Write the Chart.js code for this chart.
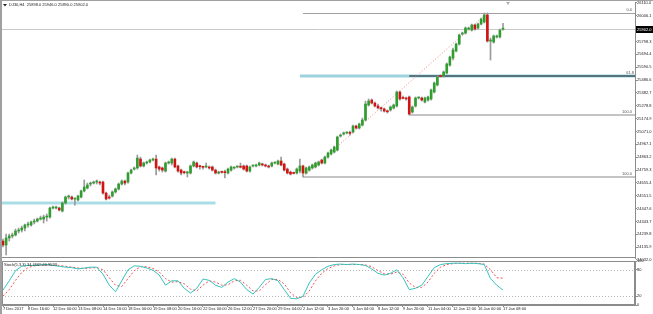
<!DOCTYPE html>
<html>
<head>
<meta charset="utf-8">
<script src="https://cdn.jsdelivr.net/npm/chart.js@4.4.1/dist/chart.umd.min.js"></script>
<style>
    html, body { margin: 0; padding: 0; background: #fff; }
    #wrap { position: relative; width: 653px; height: 314px; overflow: hidden; background: #fff; }
    #wrap canvas { position: absolute; left: 0; }
    #main { top: 0; }
    #stoch { top: 259px; }
    .edge { position: absolute; background: #a0a0a0; }
</style>
</head>
<body>
<div id="wrap">
    <canvas id="main" width="653" height="263"></canvas>
    <canvas id="stoch" width="653" height="55"></canvas>
    <div class="edge" style="left:0;top:0;width:653px;height:1px;"></div>
    <div class="edge" style="left:0;top:0;width:2px;height:314px;"></div>
</div>
<script>
// DJ30 H4 candles, 7 Dec 2017 .. 17 Jan 2018
const opens = [24185,24153,24210,24226,24234,24266,24274,24290,24315,24315,24339,24347,24363,24363,24379,24379,24452,24452,24452,24428,
    24493,24541,24541,24525,24517,24541,24590,24614,24646,24654,24662,24662,24662,24573,24541,24549,24582,24606,24646,24670,
    24662,24735,24767,24776,24848,24792,24816,24824,24840,24848,24784,24776,24751,24816,24816,24848,24792,24759,24743,24735,
    24735,24792,24816,24792,24784,24784,24784,24784,24759,24735,24743,24743,24735,24759,24776,24784,24784,24792,24792,24751,
    24792,24792,24800,24808,24800,24792,24792,24816,24808,24832,24808,24767,24743,24735,24735,24751,24792,24735,24759,24776,
    24784,24800,24840,24816,24864,24889,24905,24921,25034,25051,25059,25059,25067,25115,25099,25123,25164,25285,25325,25301,
    25277,25261,25253,25236,25245,25261,25277,25390,25342,25342,25350,25228,25277,25342,25342,25309,25325,25334,25390,25447,
    25519,25519,25544,25608,25665,25722,25778,25859,25867,25899,25891,25932,25908,25940,25956,26013,25802,25794,25835,25835,
    25898];
const highs = [24201,24242,24242,24250,24282,24290,24306,24323,24339,24347,24363,24371,24387,24395,24404,24460,24468,24468,24460,24501,
    24549,24557,24549,24533,24557,24598,24679,24654,24662,24670,24679,24670,24670,24582,24557,24590,24614,24654,24679,24679,
    24743,24767,24784,24881,24864,24824,24832,24848,24856,24881,24792,24784,24824,24832,24856,24856,24800,24767,24751,24751,
    24800,24832,24824,24800,24792,24816,24792,24792,24767,24751,24751,24759,24776,24792,24784,24792,24816,24800,24800,24792,
    24800,24808,24824,24816,24808,24800,24824,24824,24840,24864,24816,24776,24751,24743,24776,24848,24800,24784,24792,24808,
    24824,24832,24848,24873,24905,24929,24953,25034,25051,25067,25067,25075,25123,25123,25139,25180,25317,25334,25334,25309,
    25293,25269,25261,25245,25277,25293,25398,25398,25358,25350,25358,25277,25350,25350,25350,25350,25358,25414,25471,25519,
    25528,25560,25625,25681,25746,25786,25859,25875,25916,25916,25940,25940,25948,25988,26029,26029,25827,25851,25851,25899,
    25946];
const lows = [24137,24072,24185,24210,24226,24250,24258,24266,24298,24306,24323,24339,24355,24331,24347,24371,24444,24444,24428,24420,
    24484,24525,24517,24476,24509,24533,24582,24606,24630,24646,24646,24638,24565,24517,24525,24541,24573,24598,24638,24638,
    24654,24727,24759,24767,24784,24784,24808,24816,24832,24719,24751,24743,24743,24808,24800,24776,24743,24719,24727,24703,
    24727,24784,24776,24767,24767,24776,24767,24751,24727,24727,24735,24695,24727,24751,24767,24776,24776,24759,24743,24743,
    24784,24784,24792,24792,24784,24776,24784,24808,24800,24792,24751,24727,24719,24727,24727,24735,24703,24727,24751,24767,
    24776,24792,24808,24808,24856,24881,24897,24913,25026,25042,25051,25042,25059,25091,25091,25115,25156,25277,25293,25269,
    25253,25236,25228,25220,25236,25253,25269,25325,25334,25325,25204,25220,25269,25334,25317,25301,25317,25325,25382,25439,
    25511,25511,25536,25600,25649,25714,25770,25851,25859,25891,25883,25891,25899,25932,25948,25794,25649,25786,25827,25827,
    25890];
const closes = [24153,24210,24226,24234,24266,24274,24290,24315,24323,24339,24347,24363,24371,24379,24382,24452,24460,24455,24436,24493,
    24541,24544,24525,24528,24549,24590,24622,24638,24649,24662,24665,24654,24573,24525,24533,24582,24606,24646,24670,24654,
    24735,24759,24776,24856,24792,24816,24824,24840,24843,24776,24767,24759,24816,24820,24848,24784,24751,24735,24738,24741,
    24792,24824,24784,24786,24781,24792,24776,24759,24735,24743,24740,24738,24767,24784,24779,24787,24782,24767,24751,24784,
    24795,24800,24816,24800,24792,24784,24816,24819,24832,24800,24759,24735,24727,24732,24767,24792,24735,24776,24784,24800,
    24816,24824,24816,24864,24897,24921,24945,25026,25042,25059,25062,25056,25115,25099,25131,25164,25293,25317,25301,25277,
    25261,25255,25236,25230,25269,25285,25390,25334,25338,25334,25212,25269,25342,25345,25325,25342,25350,25406,25463,25511,
    25515,25552,25617,25673,25730,25778,25851,25867,25908,25905,25932,25899,25940,25980,26013,25802,25811,25843,25840,25891,
    25902];

// time axis: one label every 8 bars
const timeLabels = ['7 Dec 2017','8 Dec 16:00','12 Dec 00:00','13 Dec 08:00','14 Dec 16:00','18 Dec 00:00','19 Dec 08:00',
    '20 Dec 16:00','22 Dec 00:00','26 Dec 12:00','27 Dec 20:00','29 Dec 04:00','2 Jan 12:00','3 Jan 20:00','5 Jan 04:00',
    '8 Jan 12:00','9 Jan 20:00','11 Jan 04:00','12 Jan 12:00','16 Jan 00:00','17 Jan 08:00'];
const labelEvery = 8;

// price scale labels
const priceTicks = [26110.0,26006.1,25902.2,25798.3,25694.4,25590.5,25486.6,25382.7,25278.8,25174.9,25071.0,
    24967.1,24863.2,24759.3,24655.4,24551.5,24447.6,24343.7,24239.8,24135.9,24032.0];

// Stoch(5,3,3), one reading every 2 bars
const stochStep = 2;
const stochMain = [34,55,78,88,90,90,91,92,90,88,86,85,82,84,86,86,70,45,30,55,
    80,89,88,84,79,68,45,55,55,38,27,38,59,56,45,40,52,60,52,35,
    25,40,58,60,55,35,15,14,20,50,70,80,88,92,93,92,93,92,90,82,
    72,68,72,80,62,35,38,45,65,85,92,94,95,95,94,95,94,92,60,45,
    34];
const stochSignal = [20,35,56,74,85,89,90,91,91,90,88,86,84,83,84,85,80,62,45,42,
    60,78,87,87,83,75,60,52,53,48,36,32,45,55,52,45,46,55,56,45,
    32,32,46,58,58,48,28,17,17,32,55,72,83,89,92,92,92,92,91,87,
    78,71,70,75,70,50,40,40,52,72,86,92,94,95,95,95,95,93,80,62,
    61];

// drawn objects
const supportLevel = { price: 24493, fromBar: -1, toBar: 68 };
const resistLevel = { price: 25519, fromBar: 95 };
const fibA = { lowBar: 96, low: 24703, highBar: 155, high: 26029 };
const fibB = { lowBar: 130, low: 25204, high: 26029 };
const title = 'DJ30,H4  25898.0 25946.0 25890.0 25902.0';
const stochTitle = 'Stoch(5,3,3) 34.4669 60.9523';

const FONT = '"Liberation Sans", Arial, sans-serif';
Chart.defaults.font.family = FONT;
Chart.defaults.font.lineHeight = 1;
Chart.defaults.animation = false;

const xMin = -0.32, xMax = 202.24;
const upColor = '#2f9e2f', downColor = '#d01414', wickColor = '#9a9a9a', frameColor = '#8c8c8c';
const bars = closes.map((_, i) => i);
const lastClose = closes[closes.length - 1];

function hLine(ctx, x1, x2, y, color, width, dash) {
    ctx.beginPath();
    ctx.setLineDash(dash || []);
    ctx.strokeStyle = color;
    ctx.lineWidth = width;
    ctx.moveTo(x1, y);
    ctx.lineTo(x2, y);
    ctx.stroke();
    ctx.setLineDash([]);
}

const mainOverlay = {
    id: 'mainOverlay',
    beforeDatasetsDraw(chart) {
        const { ctx, chartArea: a, scales: { x, y } } = chart;
        ctx.save();
        // bid line
        hLine(ctx, a.left, a.right, Math.round(y.getPixelForValue(lastClose)) + 0.5, '#c8c8c8', 1);
        // light blue horizontal levels
        hLine(ctx, Math.max(a.left, x.getPixelForValue(supportLevel.fromBar)), x.getPixelForValue(supportLevel.toBar),
            y.getPixelForValue(supportLevel.price), '#a9dde6', 3);
        hLine(ctx, x.getPixelForValue(resistLevel.fromBar), a.right, y.getPixelForValue(resistLevel.price), '#9ed3de', 3);
        // fibonacci A (0 / 100)
        const fa0 = y.getPixelForValue(fibA.high), fa100 = y.getPixelForValue(fibA.low);
        hLine(ctx, x.getPixelForValue(fibA.lowBar), a.right, Math.round(fa0) + 0.5, '#a0a0a0', 1);
        hLine(ctx, x.getPixelForValue(fibA.lowBar), a.right, Math.round(fa100), '#c4c4c4', 2);
        // fibonacci B (61.8 / 100)
        const fb618 = y.getPixelForValue(fibB.high - 0.618 * (fibB.high - fibB.low));
        const fb100 = y.getPixelForValue(fibB.low);
        hLine(ctx, x.getPixelForValue(fibB.lowBar), a.right, fb618, '#57737c', 2);
        hLine(ctx, x.getPixelForValue(fibB.lowBar), a.right, Math.round(fb100), '#c4c4c4', 2);
        // fib trend line
        ctx.beginPath();
        ctx.setLineDash([1, 2]);
        ctx.strokeStyle = '#f08080';
        ctx.lineWidth = 1;
        ctx.moveTo(x.getPixelForValue(fibA.lowBar), fa100);
        ctx.lineTo(x.getPixelForValue(fibA.highBar), fa0);
        ctx.stroke();
        ctx.setLineDash([]);
        // level texts
        ctx.font = '4px ' + FONT;
        ctx.fillStyle = '#555';
        ctx.textAlign = 'right';
        ctx.textBaseline = 'bottom';
        ctx.fillText('0.0', a.right - 3, fa0 - 1);
        ctx.fillText('61.8', a.right - 1, fb618 - 1);
        ctx.fillText('100.0', a.right - 3, fb100 - 1);
        ctx.fillText('100.0', a.right - 3, fa100 - 1);
        ctx.restore();
    },
    afterDraw(chart) {
        const { ctx, chartArea: a, scales: { y } } = chart;
        ctx.save();
        hLine(ctx, a.left, a.right, a.bottom - 0.5, frameColor, 1);
        // current price box
        const py = Math.round(y.getPixelForValue(lastClose));
        ctx.fillStyle = '#000';
        ctx.fillRect(a.right + 1, py - 3, 17, 7);
        ctx.fillStyle = '#fff';
        ctx.font = '4px ' + FONT;
        ctx.textAlign = 'left';
        ctx.textBaseline = 'middle';
        ctx.fillText(lastClose.toFixed(1), a.right + 2, py + 0.5);
        // title
        ctx.fillStyle = '#222';
        ctx.beginPath();
        ctx.moveTo(3, 4); ctx.lineTo(7, 4); ctx.lineTo(5, 6.5); ctx.closePath(); ctx.fill();
        ctx.fillText(title, 9, 5);
        // shift marker
        ctx.fillStyle = '#b0b0b0';
        ctx.beginPath();
        ctx.moveTo(506, 2); ctx.lineTo(510, 2); ctx.lineTo(508, 5); ctx.closePath(); ctx.fill();
        ctx.restore();
    }
};

new Chart(document.getElementById('main'), {
    type: 'bar',
    data: {
        datasets: [{
            data: bars.map(i => ({ x: i, y: [opens[i], closes[i]] })),
            backgroundColor: bars.map(i => closes[i] >= opens[i] ? upColor : downColor),
            barThickness: 2,
            minBarLength: 1,
            grouped: false,
            order: 1
        }, {
            data: bars.map(i => ({ x: i, y: [lows[i], highs[i]] })),
            backgroundColor: wickColor,
            barThickness: 1,
            grouped: false,
            order: 2
        }]
    },
    options: {
        responsive: false,
        devicePixelRatio: 1,
        layout: { padding: { left: 2, top: 2, right: 0, bottom: 5 } },
        plugins: { legend: { display: false }, tooltip: { enabled: false } },
        scales: {
            x: { type: 'linear', min: xMin, max: xMax, offset: false, display: false },
            y: {
                position: 'right',
                min: 24048, max: 26118,
                afterFit: s => { s.width = 18; },
                afterBuildTicks: s => { s.ticks = priceTicks.map(v => ({ value: v })); },
                ticks: { font: { size: 4 }, color: '#222', padding: 0, callback: v => Number(v).toFixed(1) },
                grid: { drawOnChartArea: false, tickLength: 2, color: frameColor },
                border: { color: frameColor }
            }
        }
    },
    plugins: [mainOverlay]
});

const stochOverlay = {
    id: 'stochOverlay',
    beforeDatasetsDraw(chart) {
        const { ctx, chartArea: a, scales: { y } } = chart;
        ctx.save();
        hLine(ctx, a.left, a.right, Math.round(y.getPixelForValue(80)) + 0.5, '#b4b4b4', 1, [1, 2]);
        hLine(ctx, a.left, a.right, Math.round(y.getPixelForValue(20)) + 0.5, '#b4b4b4', 1, [1, 2]);
        ctx.restore();
    },
    afterDraw(chart) {
        const { ctx, chartArea: a } = chart;
        ctx.save();
        ctx.strokeStyle = frameColor;
        ctx.lineWidth = 1;
        ctx.strokeRect(a.left + 0.5, a.top + 0.5, a.right - a.left - 1, a.bottom - a.top - 1);
        ctx.font = '4px ' + FONT;
        ctx.fillStyle = '#222';
        ctx.textBaseline = 'middle';
        ctx.fillText(stochTitle, 4, a.top + 4);
        ctx.restore();
    }
};

new Chart(document.getElementById('stoch'), {
    type: 'line',
    data: {
        datasets: [{
            data: stochMain.map((v, k) => ({ x: k * stochStep, y: v })),
            borderColor: '#35c3bd',
            borderWidth: 1,
            pointRadius: 0
        }, {
            data: stochSignal.map((v, k) => ({ x: k * stochStep, y: v })),
            borderColor: '#f05050',
            borderWidth: 1,
            borderDash: [2, 2],
            pointRadius: 0
        }]
    },
    options: {
        responsive: false,
        devicePixelRatio: 1,
        layout: { padding: { left: 2, top: 2, right: 0, bottom: 3 } },
        plugins: { legend: { display: false }, tooltip: { enabled: false } },
        scales: {
            x: {
                type: 'linear', min: xMin, max: xMax, offset: false,
                afterBuildTicks: s => { s.ticks = timeLabels.map((_, k) => ({ value: k * labelEvery })); },
                ticks: {
                    font: { size: 4 }, color: '#222', padding: 0, align: 'start', maxRotation: 0, autoSkip: false,
                    callback: v => timeLabels[Math.round(v / labelEvery)]
                },
                grid: { drawOnChartArea: false, tickLength: 2, color: frameColor },
                border: { color: frameColor }
            },
            y: {
                position: 'right', min: 0, max: 100,
                afterFit: s => { s.width = 18; },
                afterBuildTicks: s => { s.ticks = [100, 80, 20, 0].map(v => ({ value: v })); },
                ticks: { font: { size: 4 }, color: '#222', padding: 0 },
                grid: { drawOnChartArea: false, tickLength: 2, color: frameColor },
                border: { color: frameColor }
            }
        }
    },
    plugins: [stochOverlay]
});
</script>
</body>
</html>
